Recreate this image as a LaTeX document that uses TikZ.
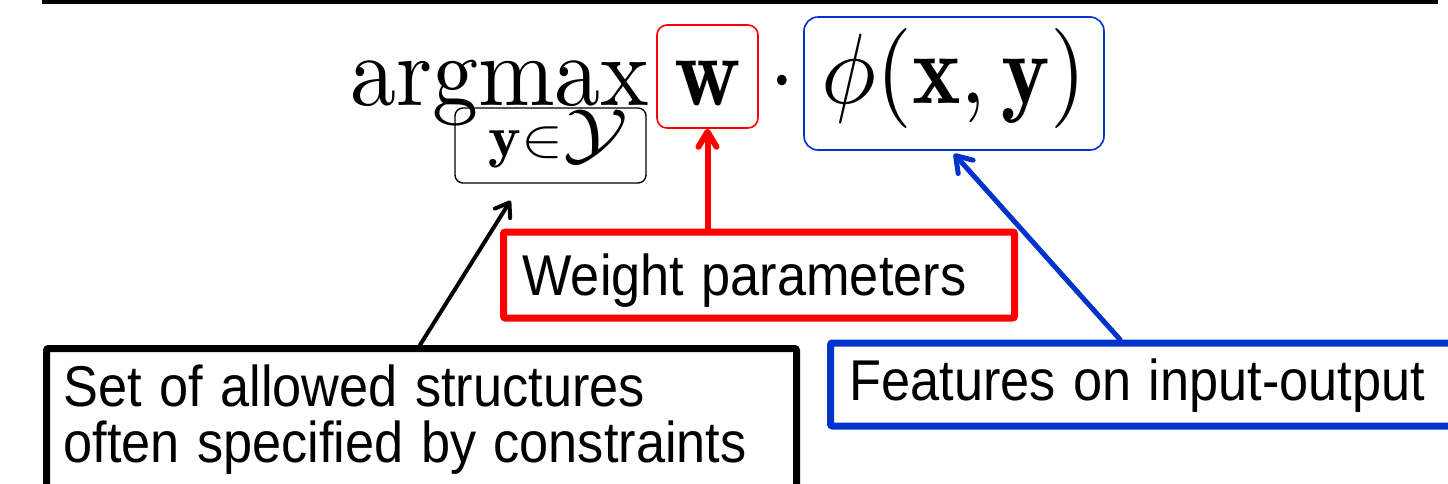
\documentclass[tikz,border=0pt]{standalone}
\usepackage{graphicx}
\usepackage{fontspec}
\setsansfont{Liberation Sans}
\usetikzlibrary{arrows.meta}
\definecolor{myred}{RGB}{255,0,0}
\definecolor{myblue}{RGB}{0,51,204}
\newcommand{\vstretch}[1]{\scalebox{1}[1.1]{#1}}
\newcommand{\mth}[1]{\scalebox{9.2}[10]{$#1$}}
\tikzset{
  mbox/.style={inner sep=0pt, anchor=base, line width=1.6pt},
  bigbox/.style={line width=7pt, rounded corners=2pt, inner ysep=0pt, inner xsep=19pt,
    align=left, font=\sffamily\fontsize{52.3}{56}\selectfont},
  arr/.style={line cap=round, line join=round}
}
\begin{document}
\begin{tikzpicture}[x=1pt,y=-1pt]
\useasboundingbox (0,0) rectangle (1448,483);
\clip (0,0) rectangle (1448,483);
\fill[white] (0,0) rectangle (1448,483);
% top rule
\coordinate (ruleL) at (42,2);
\coordinate (ruleR) at (1438,2);
\draw[line width=4pt] (ruleL) -- (ruleR);
% formula
\node[inner sep=0pt, anchor=base west] (argmax) at (350,105) {\mth{\mathrm{argmax}}};
\node[mbox, draw=black, rounded corners=8pt, line width=1.4pt, minimum width=191pt,
  text height=48pt, text depth=27pt] (subbox) at (550.5,156)
  {\hspace*{16pt}\scalebox{6.2}[5.8]{$\mathbf{y}$}\scalebox{6.3}[5.5]{$\in$}\scalebox{8.6}[6.8]{$\mathcal{Y}$}};
\node[mbox, draw=myred, rounded corners=10pt, minimum width=101pt,
  text height=80pt, text depth=23pt] (wbox) at (707.5,105) {\mth{\mathbf{w}}};
\node[inner sep=0pt, anchor=base] (dotop) at (782,105) {\mth{\cdot}};
\node[mbox, draw=myblue, rounded corners=14pt, minimum width=300pt,
  text height=86pt, text depth=47pt] (phibox) at (954,103) {\mth{\phi(\mathbf{x},\mathbf{y})}};
% label boxes
\node[bigbox, draw=myred, text width=473pt, text height=63pt, text depth=23pt,
  anchor=base west] (wlabel) at (500,295) {\vstretch{Weight parameters}};
\node[bigbox, draw=black, text width=716pt, text height=58pt, text depth=200pt,
  inner xsep=17pt, anchor=north west] (setbox) at (43,345)
  {\vstretch{Set of allowed structures}\\\vstretch{often specified by constraints}};
\node[bigbox, draw=myblue, text width=640pt, text height=57pt, text depth=26pt,
  anchor=base west] (featbox) at (827,400) {\vstretch{Features on input-output}};
% arrows
\draw[arr, myred, line width=6pt, -{Straight Barb[round,length=15pt,width=18pt]}]
  (wlabel.north -| wbox.south) -- (wbox.south);
\draw[arr, black, line width=4pt, -{Straight Barb[round,length=13pt,width=18pt]}]
  ([xshift=377pt]setbox.north west) -- ([xshift=-40pt,yshift=-17pt]subbox.south);
\draw[arr, myblue, line width=5pt, -{Straight Barb[round,length=15pt,width=20pt]}]
  ([xshift=293pt]featbox.north west) -- ([yshift=-3pt]phibox.south);
\end{tikzpicture}
\end{document}
